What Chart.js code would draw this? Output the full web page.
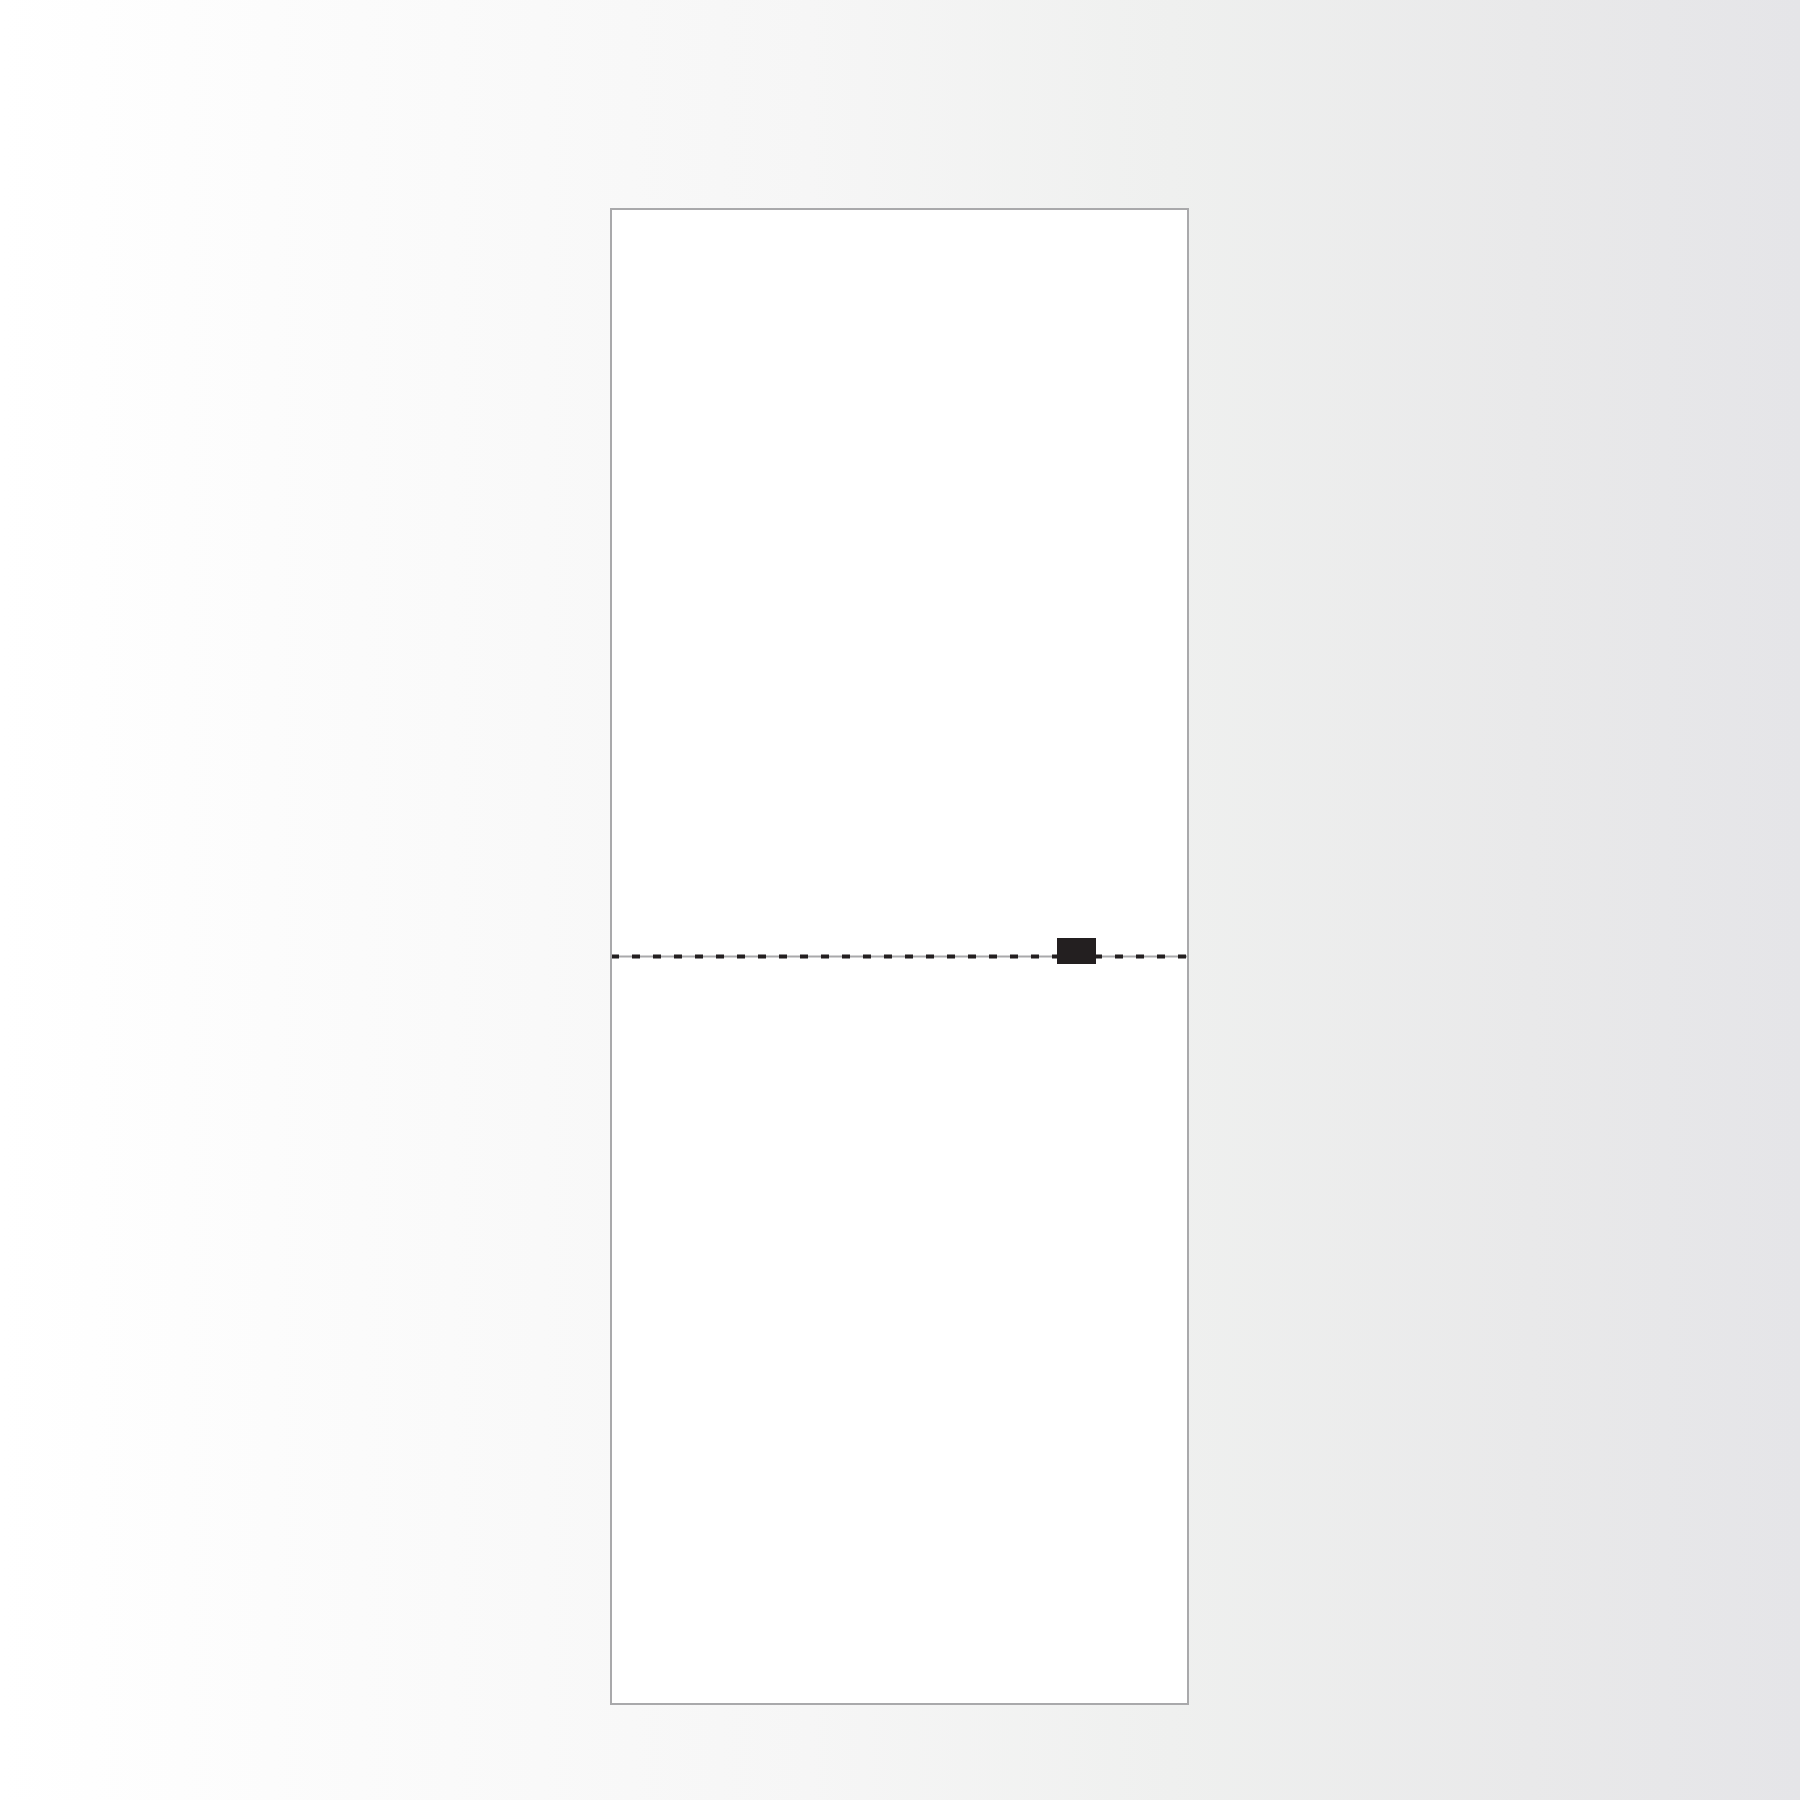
<!DOCTYPE html>
<html>
<head>
<meta charset="utf-8">
<script src="https://cdn.jsdelivr.net/npm/chart.js@4.4.1/dist/chart.umd.min.js"></script>
<style>
  html, body { margin: 0; padding: 0; }
  body {
    width: 1800px; height: 1800px;
    background: linear-gradient(to right, #ffffff 0%, #fafafa 25%, #f6f6f6 45%, #eff0ef 65%, #e9e9ea 85%, #e5e5e8 100%);
  }
  #wrap { width: 1800px; height: 1800px; }
</style>
</head>
<body>
<div id="wrap"><canvas id="chart"></canvas></div>
<script>
// baseline rule across the plot
const lineX = [0, 100];
const lineY = [0, 0];
// marker position
const markerX = [80.7];
const markerY = [0.008];

// marker shape: filled rectangle
const marker = document.createElement('canvas');
marker.width = 39;
marker.height = 26;
const mctx = marker.getContext('2d');
mctx.fillStyle = '#231f20';
mctx.fillRect(0, 0, 39, 26);

const plotFrame = {
  id: 'plotFrame',
  beforeDraw(chart) {
    const { ctx, chartArea: a } = chart;
    ctx.save();
    ctx.fillStyle = '#ffffff';
    ctx.fillRect(a.left, a.top, a.right - a.left, a.bottom - a.top);
    ctx.restore();
  },
  afterDraw(chart) {
    const { ctx, chartArea: a } = chart;
    ctx.save();
    ctx.strokeStyle = '#a9a9ab';
    ctx.lineWidth = 2;
    ctx.strokeRect(a.left, a.top, a.right - a.left, a.bottom - a.top);
    ctx.restore();
  }
};

const ctx = document.getElementById('chart').getContext('2d');
new Chart(ctx, {
  type: 'scatter',
  data: {
    datasets: [
      {
        type: 'line',
        data: lineX.map((x, i) => ({ x, y: lineY[i] })),
        borderColor: '#a9a9ab',
        borderWidth: 2,
        pointRadius: 0,
        order: 3
      },
      {
        type: 'line',
        data: lineX.map((x, i) => ({ x, y: lineY[i] })),
        borderColor: '#231f20',
        borderWidth: 4,
        borderDash: [8, 13],
        borderCapStyle: 'butt',
        pointRadius: 0,
        order: 2
      },
      {
        data: markerX.map((x, i) => ({ x, y: markerY[i] })),
        pointStyle: marker,
        pointRadius: 20,
        order: 1
      }
    ]
  },
  options: {
    responsive: true,
    maintainAspectRatio: false,
    animation: false,
    layout: { padding: { left: 611, top: 209, right: 612, bottom: 96 } },
    plugins: { legend: { display: false }, tooltip: { enabled: false } },
    scales: {
      x: {
        type: 'linear', min: 0, max: 100,
        display: true,
        grid: { display: false, drawTicks: false },
        ticks: { display: false },
        border: { display: false }
      },
      y: {
        type: 'linear', min: -1, max: 1,
        display: true,
        grid: { display: false, drawTicks: false },
        ticks: { display: false },
        border: { display: false }
      }
    }
  },
  plugins: [plotFrame]
});
</script>
</body>
</html>
